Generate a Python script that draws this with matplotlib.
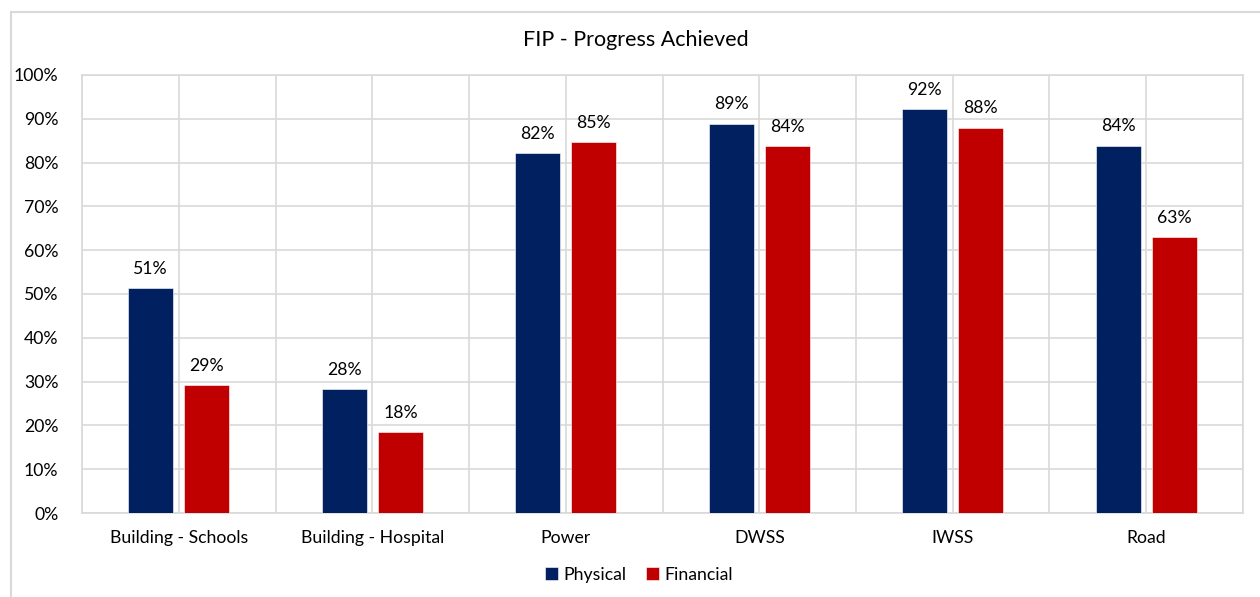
import numpy as np
import matplotlib
matplotlib.use('Agg')
import matplotlib.pyplot as plt
from matplotlib.patches import Rectangle
from matplotlib.ticker import PercentFormatter

# data
categories = ['Building - Schools', 'Building - Hospital', 'Power', 'DWSS', 'IWSS', 'Road']
physical = [51.4, 28.2, 82.1, 88.9, 92.2, 83.9]
financial = [29.2, 18.4, 84.6, 83.7, 88.0, 63.0]
series_names = ['Physical', 'Financial']
colors = ['#002060', '#C00000']
title = 'FIP - Progress Achieved'

plt.rcParams['font.family'] = ['Lato', 'DejaVu Sans']
grid_col = '#D9D9D9'
fs = 12.7

fig = plt.figure(figsize=(12.6, 5.97), dpi=100)
ax = fig.add_axes([0.0651, 0.1407, 0.9214, 0.7337])

x = np.arange(len(categories))
w = 0.233
off = 0.145
b1 = ax.bar(x - off, physical, w, color=colors[0], edgecolor='white', linewidth=0.4,
            label=series_names[0], zorder=3)
b2 = ax.bar(x + off, financial, w, color=colors[1], edgecolor='white', linewidth=0.4,
            label=series_names[1], zorder=3)

# value labels above the bars
for bars, vals in ((b1, physical), (b2, financial)):
    for r, v in zip(bars, vals):
        ax.annotate(f'{v:.0f}%', (r.get_x() + r.get_width() / 2, v),
                    xytext=(0, 8), textcoords='offset points',
                    ha='center', va='bottom', fontsize=fs, color='black')

ax.set_xlim(-0.5, len(categories) - 0.5)
ax.set_ylim(0, 100)
ax.set_yticks(np.arange(0, 101, 10))
ax.yaxis.set_major_formatter(PercentFormatter(decimals=0))
ax.set_xticks(x)
ax.set_xticklabels(categories)
ax.set_xticks(np.arange(-0.5, len(categories), 1), minor=True)
ax.tick_params(axis='both', which='both', length=0, labelsize=fs, colors='black')
ax.tick_params(axis='y', pad=17)
ax.tick_params(axis='x', pad=12)

ax.grid(True, which='both', axis='x', color=grid_col, linewidth=1.2, zorder=0)
ax.grid(True, which='major', axis='y', color=grid_col, linewidth=1.2, zorder=0)
ax.set_axisbelow(True)
for s in ax.spines.values():
    s.set_color(grid_col)
    s.set_linewidth(1.2)

fig.text(636 / 1260, 1 - 40 / 597, title, ha='center', va='center', fontsize=15.5)

fig.legend(handles=[b1, b2], labels=series_names, loc='center',
           bbox_to_anchor=(639 / 1260, 1 - 575 / 597), ncol=2, frameon=False,
           fontsize=fs, handlelength=0.75, handleheight=0.75, handletextpad=0.3,
           columnspacing=1.1)

# outer chart border
fig.patches.append(Rectangle((11 / 1260, -0.1), 1.2, 1 - 12 / 597 + 0.1,
                             transform=fig.transFigure, fill=False,
                             edgecolor=grid_col, linewidth=1.5))

fig.savefig('out.png', dpi=100)
